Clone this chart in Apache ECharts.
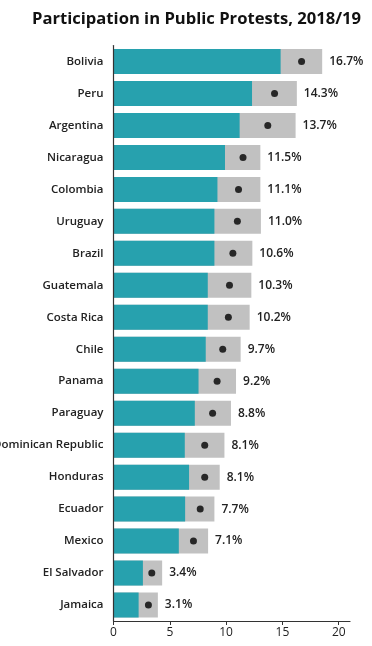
<!DOCTYPE html>
<html>
<head>
<meta charset="utf-8">
<script src="https://cdn.jsdelivr.net/npm/echarts@6/dist/echarts.min.js"></script>
<style>
html,body{margin:0;padding:0;background:#fff;}
#chart{width:372px;height:646px;}
</style>
</head>
<body>
<div id="chart"></div>
<script>
const countries = ["Bolivia","Peru","Argentina","Nicaragua","Colombia","Uruguay","Brazil","Guatemala","Costa Rica","Chile","Panama","Paraguay","Dominican Republic","Honduras","Ecuador","Mexico","El Salvador","Jamaica"];
const estimate = [16.7,14.3,13.7,11.5,11.1,11.0,10.6,10.3,10.2,9.7,9.2,8.8,8.1,8.1,7.7,7.1,3.4,3.1];
const lowerBound = [14.84,12.3,11.2,9.9,9.23,8.96,8.96,8.37,8.37,8.19,7.55,7.22,6.33,6.71,6.36,5.8,2.61,2.23];
const upperBound = [18.53,16.28,16.17,13.04,13.04,13.09,12.33,12.24,12.09,11.29,10.88,10.43,9.85,9.43,8.96,8.4,4.32,3.94];
const xTicks = [0,5,10,15,20];

const chart = echarts.init(document.getElementById('chart'), null, {renderer:'canvas'});
const font = '"Open Sans", sans-serif';
chart.setOption({
  animation: false,
  backgroundColor: '#fff',
  title: {
    text: 'Participation in Public Protests, 2018/19',
    left: 27, top: 6,
    textStyle: {fontFamily: font, fontSize: 16.6, fontWeight: 'bold', color: '#111'}
  },
  grid: {left: 113.5, right: 22, top: 45.5, bottom: 25, containLabel: false, outerBoundsMode: 'none'},
  xAxis: {
    type: 'value', min: 0, max: 21, interval: 5,
    splitLine: {show: false},
    axisLine: {show: true, lineStyle: {color: '#333', width: 1.2}},
    axisTick: {show: true, length: 4, lineStyle: {color: '#333'}, customValues: xTicks},
    axisLabel: {customValues: xTicks, fontFamily: font, fontSize: 12, color: '#222', margin: 6}
  },
  yAxis: {
    type: 'category', data: countries, inverse: true, z: 5,
    axisLine: {show: true, lineStyle: {color: '#333', width: 1.2}},
    axisTick: {show: false},
    axisLabel: {fontFamily: font, fontSize: 11.5, fontWeight: 600, color: '#222', margin: 10}
  },
  series: [
    {
      type: 'bar', data: upperBound, barWidth: 25, barGap: '-100%',
      itemStyle: {color: '#c1c1c1'},
      label: {
        show: true, position: 'right', distance: 7,
        fontFamily: font, fontSize: 12, fontWeight: 600, color: '#222',
        formatter: p => estimate[p.dataIndex].toFixed(1) + '%'
      }
    },
    {
      type: 'bar', data: lowerBound, barWidth: 25,
      itemStyle: {color: '#27a1ae'}
    },
    {
      type: 'scatter', data: estimate, symbolSize: 7, z: 4,
      itemStyle: {color: '#000'}
    }
  ]
});
</script>
</body>
</html>
